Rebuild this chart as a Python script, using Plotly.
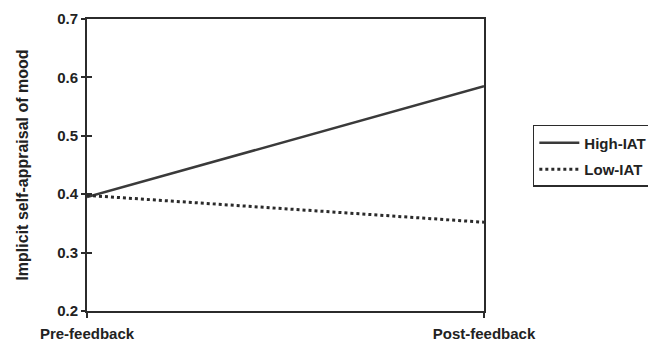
import plotly.graph_objects as go

categories = ["Pre-feedback", "Post-feedback"]
high_iat = [0.395, 0.585]
low_iat = [0.398, 0.352]
y_ticks = [0.2, 0.3, 0.4, 0.5, 0.6, 0.7]

xpos = list(range(len(categories)))
ink = "#2b2b2b"
font_family = "Liberation Sans, Arial, sans-serif"

fig = go.Figure()
fig.add_trace(go.Scatter(x=xpos, y=high_iat, mode="lines", name="<b>High-IAT</b>",
                         legendgroup="a", line=dict(color="#3a3a3a", width=2.5)))
fig.add_trace(go.Scatter(x=xpos, y=low_iat, mode="lines", name="<b>Low-IAT</b>",
                         legendgroup="b", line=dict(color="#2a2a2a", width=3, dash="dot")))
# invisible helper on overlay axis to draw inner half of crossing ticks
fig.add_trace(go.Scatter(x=xpos, y=high_iat, yaxis="y2", mode="lines",
                         line=dict(width=0), opacity=0, showlegend=False, hoverinfo="skip"))

fig.update_layout(
    width=656, height=342,
    margin=dict(l=79, r=180, t=11, b=39),
    paper_bgcolor="white", plot_bgcolor="white",
    font=dict(family=font_family, color="#222", size=15),
    xaxis=dict(range=[0, 1], tickvals=xpos,
               ticktext=["<b>%s</b>" % c for c in categories],
               showgrid=False, zeroline=False, showline=True, linecolor=ink, linewidth=2,
               mirror=True, ticks="outside", ticklen=5, tickcolor=ink, tickwidth=1.5,
               ticklabelstandoff=3, automargin=False,
               tickfont=dict(size=15, family=font_family, color="#222")),
    yaxis=dict(range=[0.2, 0.7], tickvals=y_ticks,
               ticktext=["<b>%.1f</b>" % v for v in y_ticks],
               showgrid=False, zeroline=False, showline=True, linecolor=ink, linewidth=2,
               mirror=True, ticks="outside", ticklen=4, tickcolor=ink, tickwidth=1.5,
               automargin=False,
               tickfont=dict(size=15, family=font_family, color="#222"),
               title=dict(text="<b>Implicit self-appraisal of mood</b>",
                          font=dict(size=16, family=font_family, color="#222"), standoff=25)),
    yaxis2=dict(range=[0.2, 0.7], tickvals=y_ticks, overlaying="y", side="left",
                showticklabels=False, showgrid=False, zeroline=False, showline=False,
                ticks="inside", ticklen=5, tickcolor=ink, tickwidth=1.5, automargin=False),
    legend=dict(x=1.123, y=0.637, xanchor="left", yanchor="top",
                bordercolor=ink, borderwidth=1.5, bgcolor="white",
                font=dict(size=15, family=font_family, color="#222"),
                traceorder="grouped", tracegroupgap=4, itemwidth=40),
    showlegend=True,
)

fig.write_html("out.html")
